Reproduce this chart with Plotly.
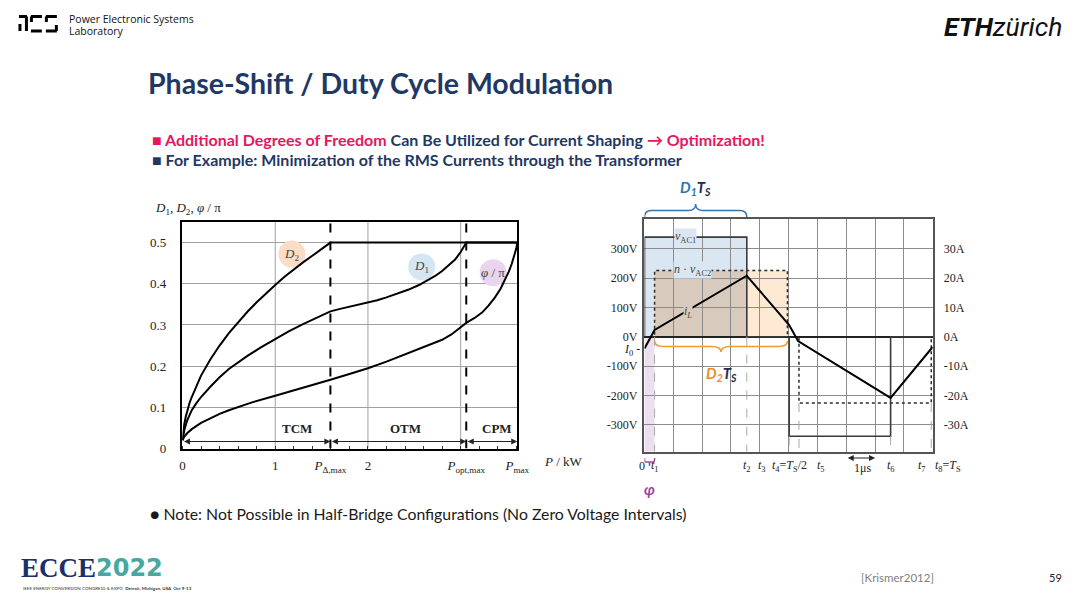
import plotly.graph_objects as go

# ---------- left chart: D1, D2, phi/pi vs P ----------
P_DELTA = 1.595
P_OPT = 3.06
P_MAX = 3.61

p_d2 = [0, 0.01, 0.02, 0.035, 0.05, 0.075, 0.1, 0.15, 0.2, 0.3, 0.4, 0.5, 0.6, 0.7, 0.8, 0.9, 1.0, 1.1, 1.2, 1.3, 1.4, 1.5, 1.595, 3.61]
d2 = [0.02, 0.045, 0.06, 0.077, 0.092, 0.11, 0.125, 0.153, 0.177, 0.216, 0.25, 0.28, 0.307, 0.332, 0.355, 0.377, 0.397, 0.417, 0.435, 0.452, 0.468, 0.485, 0.5, 0.5]

p_d1 = [0, 0.01, 0.02, 0.05, 0.1, 0.15, 0.2, 0.3, 0.4, 0.5, 0.6, 0.7, 0.85, 1.0, 1.15, 1.3, 1.45, 1.595,
        1.7, 1.8, 1.9, 2.0, 2.1, 2.2, 2.32, 2.44, 2.55, 2.65, 2.73, 2.8, 2.87, 2.94, 3.0, 3.06, 3.61]
d1 = [0.02, 0.035, 0.045, 0.068, 0.093, 0.11, 0.125, 0.15, 0.173, 0.193, 0.21, 0.225, 0.246, 0.266, 0.285, 0.302, 0.318, 0.333,
      0.339, 0.344, 0.349, 0.354, 0.36, 0.367, 0.376, 0.386, 0.397, 0.409, 0.42, 0.431, 0.444, 0.459, 0.477, 0.5, 0.5]

p_phi = [0, 0.02, 0.05, 0.1, 0.2, 0.3, 0.4, 0.5, 0.75, 1.0, 1.3, 1.595, 1.8, 2.0, 2.2, 2.44, 2.6, 2.8, 2.9, 2.99, 3.06,
         3.15, 3.23, 3.3, 3.37, 3.43, 3.48, 3.52, 3.55, 3.58, 3.6, 3.61]
phi = [0.02, 0.029, 0.037, 0.047, 0.062, 0.074, 0.084, 0.093, 0.112, 0.128, 0.147, 0.167, 0.181, 0.195, 0.211, 0.232, 0.245, 0.264, 0.277, 0.293, 0.305,
       0.317, 0.33, 0.347, 0.367, 0.388, 0.41, 0.43, 0.448, 0.468, 0.486, 0.5]

curve_labels = ["<i>D</i><sub>2</sub>", "<i>D</i><sub>1</sub>", "<i>φ</i> / π"]
label_p = [1.18, 2.58, 3.35]
label_v = [0.472, 0.441, 0.427]
label_colors = ["#fbdcc4", "#d5e5f2", "#e9d6ee"]

modes = ["TCM", "OTM", "CPM"]
mode_bounds = [0, P_DELTA, P_OPT, P_MAX]
mode_label_p = [1.24, 2.4, 3.39]

# ---------- right chart: waveforms over one period ----------
t_vac1 = [0, 0, 3.55, 3.55, 5.02, 5.02, 8.54, 8.54, 10]
v_vac1 = [0, 340, 340, 0, 0, -340, -340, 0, 0]

t_vac2 = [0, 0.35, 0.35, 4.96, 4.96, 5.36, 5.36, 9.95, 9.95, 10]
v_vac2 = [0, 0, 226, 226, 0, 0, -226, -226, 0, 0]

t_il = [0, 0.35, 3.55, 5.02, 5.33, 8.54, 10]
i_l = [-4.0, 2.3, 20.8, 4.0, -1.5, -20.9, -3.5]

T1, T2, T3, T4, T5, T6, T7 = 0.35, 3.55, 4.96, 5.02, 5.36, 8.54, 9.95
V1, V2 = 340, 226
V_LO, V_HI = -392.5, 400.7

volt_ticks = [300, 200, 100, 0, -100, -200, -300]
amp_ticks = [30, 20, 10, 0, -10, -20, -30]

t_names = ["0", "<i>t</i><sub>1</sub>", "<i>t</i><sub>2</sub>", "<i>t</i><sub>3</sub>",
           "<i>t</i><sub>4</sub>=<i>T</i><sub>S</sub>/2", "<i>t</i><sub>5</sub>", "<i>t</i><sub>6</sub>",
           "<i>t</i><sub>7</sub>", "<i>t</i><sub>8</sub>=<i>T</i><sub>S</sub>"]
t_name_x = [641, 654, 746, 761, 789, 820, 890, 922, 948]

proj_t = [T1, T2, T4, T5, T6, T7]
proj_v = [0, 0, -V1, -V2, -V1, -V2]

# slide positions are read in 1080x599 screenshot pixels; the capture shows
# slightly more than the figure, so the layout grid is a touch smaller
W, H = 1068, 591
SERIF = "Liberation Serif"
SANS = "Lato"
NAVY = "#1f3864"
PINK = "#e5175f"


def px(x):
    return x / W


def py(y):
    return 1 - y / H


def note(x, y, text, font, xanchor="left", **kw):
    return dict(x=px(x), y=py(y), xref="paper", yref="paper", xanchor=xanchor, yanchor="middle",
                text=text, showarrow=False, font=font, **kw)


fig = go.Figure()

# label circles first so curves sit on top
fig.add_trace(go.Scatter(x=label_p, y=label_v, mode="markers", xaxis="x", yaxis="y",
                         marker=dict(size=27, color=label_colors, line=dict(width=0)),
                         hoverinfo="skip"))
for xs, ys in [(p_d2, d2), (p_d1, d1), (p_phi, phi)]:
    fig.add_trace(go.Scatter(x=xs, y=ys, mode="lines", xaxis="x", yaxis="y",
                             line=dict(color="black", width=2)))

fig.add_trace(go.Scatter(x=t_vac1, y=v_vac1, mode="lines", xaxis="x2", yaxis="y2",
                         line=dict(color="#3a3a3a", width=1.6)))
fig.add_trace(go.Scatter(x=t_vac2, y=v_vac2, mode="lines", xaxis="x2", yaxis="y2",
                         line=dict(color="#2a2a2a", width=1.5, dash="dot")))
fig.add_trace(go.Scatter(x=t_il, y=i_l, mode="lines", xaxis="x2", yaxis="y3",
                         line=dict(color="black", width=2)))

shapes = []
# left grid verticals and dashed boundaries
for g in [1, 2, 3]:
    shapes.append(dict(type="line", xref="x", yref="y", x0=g, x1=g, y0=0, y1=0.55,
                       line=dict(color="#a0a0a0", width=1), layer="below"))
for b in [P_DELTA, P_OPT]:
    shapes.append(dict(type="line", xref="x", yref="y", x0=b, x1=b, y0=0, y1=0.55,
                       line=dict(color="black", width=2, dash="dash")))

# right: filled pulse areas
shapes.append(dict(type="rect", xref="x2", yref="y2", x0=0, x1=T2, y0=0, y1=V1,
                   fillcolor="#dae7f3", line=dict(width=0), layer="below"))
shapes.append(dict(type="rect", xref="x2", yref="y2", x0=T1, x1=T3, y0=0, y1=V2,
                   fillcolor="#fde9d4", line=dict(width=0), layer="below"))
shapes.append(dict(type="rect", xref="x2", yref="y2", x0=T1, x1=T2, y0=0, y1=V2,
                   fillcolor="#d8cbbe", line=dict(width=0), layer="below"))
shapes.append(dict(type="rect", xref="x2", yref="y2", x0=0, x1=T1, y0=V_LO, y1=0,
                   fillcolor="#ecdff0", line=dict(width=0), layer="below"))
for t, v in zip(proj_t, proj_v):
    shapes.append(dict(type="line", xref="x2", yref="y2", x0=t, x1=t, y0=v, y1=V_LO,
                       line=dict(color="#a8a8a8", width=1, dash="dash")))


def brace(x0, x1, yb, h, color):
    r = (x1 - x0) * 0.07
    m = (x0 + x1) / 2
    yh = yb + h / 2
    yt = yb + h
    path = (f"M {x0},{yb} Q {x0},{yh} {x0 + r},{yh} L {m - r},{yh} Q {m},{yh} {m},{yt} "
            f"Q {m},{yh} {m + r},{yh} L {x1 - r},{yh} Q {x1},{yh} {x1},{yb}")
    return dict(type="path", xref="x2", yref="paper", path=path,
                line=dict(color=color, width=1.5))


shapes.append(brace(0, T2, py(217), 13 / H, "#2e75b6"))
shapes.append(brace(T1, T3, py(341), -11 / H, "#f39a2e"))
shapes.append(brace(0, T1, py(458), -8 / H, "#9b4fa5"))

# PES logo strokes (pixel coordinates)
pes = [((16, 16.5), (24, 16.5)), ((23.5, 16.5), (23.5, 31)), ((17, 24), (17, 31)),
       ((28, 16.5), (39, 16.5)), ((28.5, 16.5), (28.5, 22)), ((28, 31), (39, 31)),
       ((43, 16.5), (54, 16.5)), ((43.5, 16.5), (43.5, 22)), ((43, 31), (54, 31)),
       ((53.5, 25), (53.5, 31))]
for (a, b) in pes:
    shapes.append(dict(type="line", xref="paper", yref="paper", x0=px(a[0]), y0=py(a[1]),
                       x1=px(b[0]), y1=py(b[1]), line=dict(color="black", width=3)))

ann = []
serif_f = dict(family=SERIF, size=13, color="#222")

# left chart annotations
ann.append(note(150, 208, "<i>D</i><sub>1</sub>, <i>D</i><sub>2</sub>, <i>φ</i> / π", serif_f))
ann.append(note(541, 461, "<i>P</i> / kW", serif_f))
for txt, xp, yv in zip(curve_labels, label_p, label_v):
    ann.append(dict(x=xp, y=yv, xref="x", yref="y", text=txt, showarrow=False,
                    xanchor="center", yanchor="middle",
                    font=dict(family=SERIF, size=13, color="#444")))
for i, name in enumerate(modes):
    ann.append(dict(x=mode_label_p[i], y=0.048, xref="x", yref="y", text="<b>" + name + "</b>",
                    showarrow=False, xanchor="center", yanchor="middle",
                    font=dict(family=SERIF, size=13, color="#222")))
    ann.append(dict(x=mode_bounds[i + 1], y=0.017, ax=mode_bounds[i], ay=0.017,
                    xref="x", yref="y", axref="x", ayref="y", text="", showarrow=True,
                    arrowhead=2, arrowside="end+start", arrowsize=1, arrowwidth=1.2,
                    arrowcolor="#222", standoff=0, startstandoff=0))

# right chart annotations
for txt, xp in zip(t_names, t_name_x):
    ann.append(note(xp, 466, txt, dict(family=SERIF, size=12, color="#222"), xanchor="center"))
ann.append(dict(x=1.44, y=V1, xref="x2", yref="y2", text="<i>v</i><sub>AC1</sub>", showarrow=False,
                xanchor="center", yanchor="middle",
                bgcolor="#dae7f3", borderpad=0, font=dict(family=SERIF, size=12, color="#444")))
ann.append(dict(x=1.67, y=V2, xref="x2", yref="y2", text="<i>n</i> · <i>v</i><sub>AC2</sub>",
                showarrow=False, bgcolor="#dae7f3", borderpad=0, xanchor="center", yanchor="middle",
                font=dict(family=SERIF, size=12, color="#444")))
ann.append(dict(x=1.52, y=8.6, xref="x2", yref="y3", text="<i>i</i><sub><i>L</i></sub>",
                showarrow=False, bgcolor="#d8cbbe", borderpad=0, xanchor="center", yanchor="middle",
                font=dict(family=SERIF, size=12, color="#444")))
ann.append(note(641, 350, "<i>I</i><sub>0</sub> -", dict(family=SERIF, size=12, color="#222"),
                xanchor="right"))
ann.append(dict(x=8.0, y=py(458), ax=7.0, ay=0, xref="x2", yref="paper", axref="x2", ayref="pixel",
                text="", showarrow=True, arrowhead=2, arrowside="end+start", arrowsize=1,
                arrowwidth=1.2, arrowcolor="#222", standoff=0, startstandoff=0))
ann.append(dict(x=7.55, y=py(468), xref="x2", yref="paper", text="1μs", showarrow=False,
                xanchor="center", yanchor="middle",
                font=dict(family=SERIF, size=12, color="#222")))
ann.append(dict(x=T2 / 2, y=py(188), xref="x2", yref="paper", showarrow=False,
                xanchor="center", yanchor="middle",
                text="<b><i><span style='color:#2e75b6'>D<sub>1</sub></span>"
                     "<span style='color:#1f2d4e'>T<sub>S</sub></span></i></b>",
                font=dict(family=SANS, size=15)))
ann.append(dict(x=(T1 + T3) / 2, y=py(374), xref="x2", yref="paper", showarrow=False,
                xanchor="center", yanchor="middle",
                text="<b><i><span style='color:#f0892a'>D<sub>2</sub></span>"
                     "<span style='color:#1f2d4e'>T<sub>S</sub></span></i></b>",
                font=dict(family=SANS, size=15)))
ann.append(dict(x=T1 / 2, y=py(489), xref="x2", yref="paper", showarrow=False,
                xanchor="center", yanchor="middle",
                text="<b><i>φ</i></b>", font=dict(family=SANS, size=15, color="#9b3fa0")))

# slide text
ann.append(note(64, 19, "Power Electronic Systems", dict(family="Open Sans", size=10.5, color="#111")))
ann.append(note(64, 31, "Laboratory", dict(family="Open Sans", size=10.5, color="#111")))
ann.append(note(1064, 26, "<b><i>ETH</i></b><i>zürich</i>", dict(family="Roboto", size=26.5, color="#111"),
                xanchor="right"))
ann.append(note(143, 83, "<b>Phase-Shift / Duty Cycle Modulation</b>",
                dict(family=SANS, size=28.5, color=NAVY)))
ann.append(note(147, 139,
                f"<b><span style='color:{PINK}'>■ Additional Degrees of Freedom</span> Can Be Utilized "
                f"for Current Shaping <span style='color:{PINK}'>→ Optimization!</span></b>",
                dict(family=SANS, size=16, color=NAVY)))
ann.append(note(147, 159, "<b>■ For Example: Minimization of the RMS Currents through the Transformer</b>",
                dict(family=SANS, size=16, color=NAVY)))
ann.append(note(145, 513, "● Note: Not Possible in Half-Bridge Configurations (No Zero Voltage Intervals)",
                dict(family=SANS, size=15.8, color="#1a1a1a")))
ann.append(note(16, 568, "<b>ECCE</b>", dict(family=SERIF, size=27, color="#1b2f6b")))
ann.append(note(91, 568, "<b>2022</b>", dict(family="DejaVu Sans", size=24, color="#4aa6a0")))
ann.append(note(18, 588, "IEEE ENERGY CONVERSION CONGRESS &amp; EXPO  <b>Detroit, Michigan, USA  Oct 9-13</b>",
                dict(family=SANS, size=4.5, color="#333")))
ann.append(note(897, 577, "[Krismer2012]", dict(family=SANS, size=11.5, color="#7f7f7f"), xanchor="center"))
ann.append(note(1055, 577, "59", dict(family=SANS, size=11, color="#222"), xanchor="center"))

frame = dict(showline=True, mirror=True, zeroline=False, ticks="")

fig.update_layout(
    autosize=True, margin=dict(l=0, r=0, t=0, b=0),
    paper_bgcolor="white", plot_bgcolor="white", showlegend=False,
    xaxis=dict(domain=[px(180), px(515.7)], range=[0, P_MAX], anchor="y",
               tickmode="array", tickvals=[0, 1, P_DELTA, 2, P_OPT, P_MAX],
               ticktext=["0", "1", "<i>P</i><sub>Δ,max</sub>", "2", "<i>P</i><sub>opt,max</sub>",
                         "<i>P</i><sub>max</sub>"],
               showgrid=False, linecolor="black", linewidth=1.5, tickfont=serif_f,
               ticklabelstandoff=4,
               minor=dict(tickmode="linear", tick0=0, dtick=0.2, ticks="inside", ticklen=3,
                          tickcolor="#333", showgrid=False), **frame),
    yaxis=dict(domain=[py(448.5), py(222)], range=[0, 0.55], anchor="x",
               tickvals=[0, 0.1, 0.2, 0.3, 0.4, 0.5], ticktext=["0", "0.1", "0.2", "0.3", "0.4", "0.5"],
               showgrid=True, gridcolor="#a0a0a0", gridwidth=1, linecolor="black", linewidth=1.5,
               tickfont=serif_f, ticklabelstandoff=12, **frame),
    xaxis2=dict(domain=[px(643.3), px(932.3)], range=[0, 10], anchor="y2", tick0=0, dtick=1,
                showticklabels=False, showgrid=True, gridcolor="#8c8c8c", gridwidth=1,
                linecolor="#555", linewidth=1.5, **frame),
    yaxis2=dict(domain=[py(451.7), py(219.3)], range=[V_LO, V_HI], anchor="x2",
                tickvals=volt_ticks, ticktext=[f"{v}V" for v in volt_ticks],
                showgrid=True, gridcolor="#8c8c8c", gridwidth=1, linecolor="#555", linewidth=1.5,
                tickfont=dict(family=SERIF, size=12, color="#222"), ticklabelstandoff=3,
                showline=True, mirror=True, ticks="", zeroline=True, zerolinecolor="#222",
                zerolinewidth=1.5),
    yaxis3=dict(overlaying="y2", side="right", anchor="x2", range=[V_LO / 10, V_HI / 10],
                tickvals=amp_ticks, ticktext=[f"{a}A" for a in amp_ticks], showgrid=False,
                zeroline=False, showline=False, ticks="", ticklabelstandoff=10,
                tickfont=dict(family=SERIF, size=12, color="#222")),
    shapes=shapes, annotations=ann,
)

# figure fills the whole window; drop the default body margin and the mode bar
fig.write_html("out.html", default_width="100vw", default_height="100vh",
               config={"displayModeBar": False, "responsive": True},
               post_script="document.body.style.margin='0';"
                           "document.documentElement.style.overflow='hidden';")
